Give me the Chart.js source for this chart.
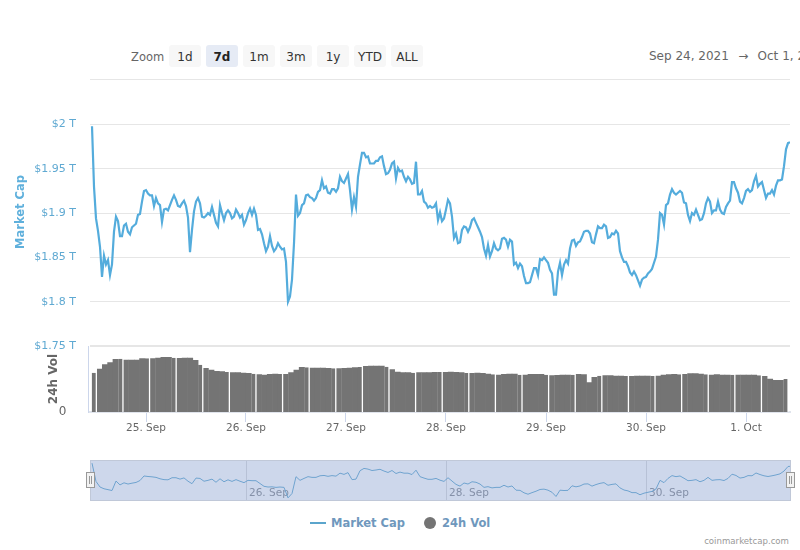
<!DOCTYPE html>
<html>
<head>
<meta charset="utf-8">
<title>Market Cap</title>
<script src="https://cdn.jsdelivr.net/npm/chart.js@4/dist/chart.umd.min.js"></script>
<style>
    html, body { margin: 0; padding: 0; width: 800px; height: 550px; overflow: hidden; background: #fff; font-family: "DejaVu Sans", sans-serif; }
    .abs { position: absolute; white-space: nowrap; }
    canvas { position: absolute; display: block; }
    .btn { position: absolute; top: 45px; height: 22px; width: 32px; line-height: 24px; text-align: center; font-size: 12px; color: #333; background: #f7f7f7; border-radius: 3px; }
    .btn.active { background: #e6ebf5; font-weight: bold; color: #222; }
    .handle { position: absolute; top: 472px; width: 7px; height: 14px; background: #f2f2f2; border: 1px solid #999; }
    .handle i { position: absolute; top: 3px; width: 1px; height: 8px; background: #999; }
</style>
</head>
<body>
    <div class="abs" style="left:131px;top:50px;font-size:11.5px;color:#666;">Zoom</div>
    <div class="btn" style="left:169px;">1d</div>
    <div class="btn active" style="left:206px;">7d</div>
    <div class="btn" style="left:243px;">1m</div>
    <div class="btn" style="left:280px;">3m</div>
    <div class="btn" style="left:317px;">1y</div>
    <div class="btn" style="left:354px;">YTD</div>
    <div class="btn" style="left:391px;">ALL</div>
    <div class="abs" style="left:649px;top:49px;font-size:12px;color:#666;">Sep 24, 2021 <span style="margin:0 5.5px;">→</span> Oct 1, 2021</div>
    <div class="abs" style="left:90px;top:79px;width:700px;height:1px;background:#e6e6e6;"></div>

    <canvas id="mainChart" width="800" height="242" style="left:0;top:114px;"></canvas>
    <canvas id="volChart" width="800" height="100" style="left:0;top:340px;"></canvas>
    <canvas id="navChart" width="700" height="40" style="left:90px;top:460px;background:#cdd7eb;"></canvas>

    <div class="abs" style="left:20px;top:212px;transform:translate(-50%,-50%) rotate(-90deg);font-size:11.5px;font-weight:bold;color:#5fb0dc;">Market Cap</div>
    <div class="abs" style="left:53px;top:379px;transform:translate(-50%,-50%) rotate(-90deg);font-size:12px;font-weight:bold;color:#666;">24h Vol</div>

    <div class="abs" style="left:90px;top:460px;width:699px;height:39px;border:1px solid #c0c8d8;"></div>
    <div class="handle" style="left:86px;"><i style="left:2px;"></i><i style="left:4px;"></i></div>
    <div class="handle" style="left:786px;"><i style="left:2px;"></i><i style="left:4px;"></i></div>

    <div class="abs" style="left:310px;top:522px;width:16px;height:2px;background:#5ba5cc;"></div>
    <div class="abs" style="left:331px;top:516px;font-size:11.5px;font-weight:bold;color:#6f98bd;">Market Cap</div>
    <div class="abs" style="left:424px;top:517px;width:12px;height:12px;border-radius:50%;background:#747474;"></div>
    <div class="abs" style="left:442px;top:516px;font-size:11.5px;font-weight:bold;color:#6f98bd;">24h Vol</div>
    <div class="abs" style="right:11px;top:536px;font-size:8.6px;color:#999;">coinmarketcap.com</div>

<script>
// Market cap in billions of USD, one reading every 0.48 hours
const marketCap = [
    1998, 1930, 1894, 1880, 1862, 1828, 1852, 1842, 1847, 1830, 1842, 1879, 1896, 1891, 1874, 1874, 1886, 1888, 1879, 1876,
    1884, 1886, 1888, 1898, 1899, 1913, 1925, 1926, 1922, 1920, 1920, 1908, 1917, 1911, 1909, 1890, 1904, 1905, 1903, 1909,
    1915, 1920, 1915, 1908, 1907, 1911, 1914, 1908, 1895, 1856, 1881, 1902, 1913, 1917, 1911, 1896, 1895, 1897, 1900, 1898,
    1907, 1898, 1889, 1885, 1909, 1900, 1892, 1900, 1903, 1900, 1894, 1896, 1904, 1900, 1895, 1898, 1887, 1892, 1900, 1905,
    1898, 1905, 1898, 1881, 1882, 1876, 1866, 1857, 1862,
    1874, 1863, 1857, 1860, 1866, 1862, 1859, 1860, 1845, 1800, 1806, 1825, 1866, 1921, 1897, 1900, 1909, 1911, 1920, 1921,
    1918, 1917, 1914, 1917, 1924, 1926, 1937, 1928, 1930, 1923, 1922, 1927, 1927, 1924, 1928, 1941, 1936, 1934, 1939, 1944,
    1926, 1904, 1918, 1907, 1941, 1955, 1968, 1968, 1963, 1964, 1956, 1956, 1956, 1959, 1959, 1963, 1964, 1953, 1944, 1945,
    1949, 1956, 1958, 1939, 1951, 1947, 1948, 1941, 1936, 1941, 1938, 1933, 1934, 1958, 1921, 1921, 1925, 1913, 1911, 1906,
    1908, 1906, 1907, 1911, 1892, 1901, 1891, 1894,
    1904, 1915, 1911, 1896, 1872, 1877, 1866, 1867, 1881, 1885, 1884, 1879, 1884, 1892, 1894, 1889, 1884, 1879, 1873, 1860,
    1852, 1864, 1851, 1857, 1866, 1860, 1858, 1860, 1871, 1872, 1870, 1862, 1870, 1868, 1842, 1844, 1838, 1843, 1840, 1829,
    1821, 1821, 1822, 1830, 1838, 1838, 1830, 1848, 1847, 1850, 1847, 1844, 1836, 1832, 1808, 1808, 1834, 1844, 1830, 1842,
    1847, 1843, 1860, 1869, 1870, 1863, 1867, 1868, 1873, 1879, 1880, 1880, 1877, 1867, 1866, 1876, 1885, 1883, 1883, 1887,
    1885, 1872, 1873, 1877, 1876, 1880, 1877,
    1857, 1850, 1845, 1845, 1840, 1833, 1830, 1834, 1830, 1824, 1818, 1825, 1827, 1828, 1832, 1834, 1837, 1844, 1851, 1870,
    1900, 1898, 1887, 1909, 1911, 1921, 1927, 1923, 1921, 1923, 1925, 1923, 1912, 1911, 1898, 1891, 1900, 1898, 1904, 1898,
    1892, 1893, 1900, 1911, 1917, 1913, 1900, 1903, 1903, 1913, 1904, 1900, 1899, 1907, 1911, 1914, 1935, 1935, 1928, 1923,
    1913, 1911, 1917, 1925, 1927, 1924, 1926, 1936, 1942, 1930, 1933, 1935, 1926, 1917, 1922, 1922, 1926, 1921, 1931, 1937,
    1937, 1938, 1953, 1972, 1979, 1980
];
const marketCapFirstHour = -12.96;
const marketCapStepHours = 0.48;

// 24h volume in billions of USD
const volume = [
    89.4, 98.5, 107.6, 112.1, 119.7, 121.2, 118.9, 118.2, 118.2, 121.2, 122, 122, 122.7, 124.2, 124.2, 123.5, 122.7, 122.7, 122.7, 117.4,
    107.6, 100, 95.5, 92.4, 91.7, 90.9, 90.2, 89.4, 88.6, 87.9, 87.1, 85.6, 84.1, 85.6, 86.4, 86.4, 86.4, 89.4, 95.5, 101.5,
    101.5, 100.8, 100, 100, 99.2, 99.2, 99.2, 99.2, 100, 100.8, 102.3, 104.5, 104.5, 104.5, 104.5, 103, 97, 90.9,
    89.4, 89.4, 89.4, 90.2, 89.4, 89.4, 90.2, 90.9, 90.9, 90.9, 90.2, 89.4, 88.6, 88.6, 88.6, 87.9, 86.4, 85.6, 84.8, 85.6,
    86.4, 86.4, 84.8, 84.8, 85.6, 85.6, 85.6, 84.8, 83.3, 83.3, 84.1, 84.1, 84.8, 86.4, 84.8, 66.7, 78.8, 82.6, 83.3, 82.6,
    81.8, 81.8, 81.8, 81.8, 81.8, 81.8, 81.8, 81.8, 82.6, 84.1, 84.8, 85.6, 85.6, 86.4, 87.1, 87.1, 86.4, 85.6, 84.8, 84.8,
    84.1, 84.1, 84.8, 84.8, 84.1, 84.1, 84.1, 83.3, 81.8, 75, 72, 72, 75
];
const volumeFirstHour = -12.4;
const volumeStepHours = 1.277;

// x axis is hours since 25 Sep 00:00
const dayHours = [0, 24, 48, 72, 96, 120, 144];
const dayLabels = ["25. Sep", "26. Sep", "27. Sep", "28. Sep", "29. Sep", "30. Sep", "1. Oct"];
const navHours = [24, 72, 120];
const navLabels = ["26. Sep", "28. Sep", "30. Sep"];
const capTicks = [1750, 1800, 1850, 1900, 1950, 2000];
const capTickLabels = ["$1.75 T", "$1.8 T", "$1.85 T", "$1.9 T", "$1.95 T", "$2 T"];

const HOUR_MIN = -13.44;
const HOUR_MAX = 154.56;
const FONT = '"DejaVu Sans", sans-serif';
const LINE_BLUE = "#54acdc";

Chart.defaults.animation = false;
Chart.defaults.responsive = false;
Chart.defaults.font.family = FONT;
Chart.defaults.plugins.legend.display = false;
Chart.defaults.plugins.tooltip.enabled = false;

const capPoints = marketCap.map((v, i) => ({ x: marketCapFirstHour + i * marketCapStepHours, y: v }));
const volPoints = volume.map((v, i) => ({ x: volumeFirstHour + i * volumeStepHours, y: v }));
// the navigator shows a coarser line, every 2nd reading
const navPoints = capPoints.filter((p, i) => i % 2 === 0 || i === capPoints.length - 1);

function fixedTicks(values) {
    return function(scale) {
        scale.ticks = values.map(v => ({ value: v }));
    };
}

// stop the scale reserving room for half a tick label at the plot ends
function fitBox(width, height) {
    return function(s) {
        if (width !== null) s.width = width;
        if (height !== null) s.height = height;
        s.paddingTop = 0;
        s.paddingBottom = 0;
        s.paddingLeft = 0;
        s.paddingRight = 0;
    };
}

// Main market cap line
new Chart(document.getElementById("mainChart"), {
    type: "line",
    data: {
        datasets: [{
            label: "Market Cap",
            data: capPoints,
            borderColor: LINE_BLUE,
            borderWidth: 2.2,
            pointRadius: 0,
            tension: 0
        }]
    },
    options: {
        layout: { padding: { top: 10.5, right: 10, bottom: 10 } },
        scales: {
            x: { type: "linear", display: false, min: HOUR_MIN, max: HOUR_MAX },
            y: {
                min: 1750,
                max: 2000,
                afterBuildTicks: fixedTicks(capTicks),
                afterFit: fitBox(90, null),
                border: { display: false },
                grid: {
                    color: "#e6e6e6",
                    drawTicks: false,
                    lineWidth: c => (c.tick && c.tick.value === 1750 ? 2 : 1)
                },
                ticks: {
                    padding: 14,
                    color: "#5fa9d2",
                    font: { size: 11 },
                    callback: v => capTickLabels[capTicks.indexOf(v)]
                }
            }
        }
    }
});

// Volume bars, every fifth bar has a white edge like the original columns
new Chart(document.getElementById("volChart"), {
    type: "bar",
    data: {
        datasets: [{
            label: "24h Vol",
            data: volPoints,
            backgroundColor: "#747474",
            borderColor: "#ffffff",
            borderWidth: c => (c.dataIndex % 5 === 0 ? { right: 1.3 } : 0),
            inflateAmount: c => (c.dataIndex % 5 <= 1 ? 0 : 0.33),
            barPercentage: 1,
            categoryPercentage: 1
        }]
    },
    options: {
        layout: { padding: { top: 6, right: 10 } },
        scales: {
            x: {
                type: "linear",
                offset: false,
                min: -13.8,
                max: HOUR_MAX,
                afterBuildTicks: fixedTicks(dayHours),
                afterFit: fitBox(null, 28),
                border: { color: "#e0e4ec", width: 2 },
                grid: { offset: false, drawOnChartArea: false, color: "#ccd6eb", tickLength: 10 },
                ticks: {
                    padding: 0,
                    maxRotation: 0,
                    autoSkip: false,
                    color: "#666",
                    font: { size: 10.5 },
                    callback: v => dayLabels[dayHours.indexOf(v)]
                }
            },
            y: {
                min: 0,
                max: 150,
                afterBuildTicks: fixedTicks([0]),
                afterFit: fitBox(88.5, null),
                border: { color: "#ccd6eb" },
                grid: { display: false },
                ticks: { padding: 14, color: "#666", font: { size: 12 } }
            }
        }
    }
});

// Navigator strip under the chart
new Chart(document.getElementById("navChart"), {
    type: "line",
    data: {
        datasets: [{
            data: navPoints,
            borderColor: "#6fa3cf",
            borderWidth: 1,
            pointRadius: 0,
            tension: 0
        }]
    },
    options: {
        layout: { padding: 0 },
        scales: {
            x: {
                type: "linear",
                min: HOUR_MIN,
                max: HOUR_MAX,
                afterBuildTicks: fixedTicks(navHours),
                afterFit: fitBox(null, 0),
                border: { display: false },
                grid: { color: "#b7c1d6", drawTicks: false },
                ticks: {
                    mirror: true,
                    padding: 0,
                    align: "start",
                    labelOffset: 3,
                    maxRotation: 0,
                    autoSkip: false,
                    color: "#8490a8",
                    font: { size: 10.5 },
                    callback: v => navLabels[navHours.indexOf(v)]
                }
            },
            y: { display: false, min: 1788, max: 2016 }
        }
    }
});
</script>
</body>
</html>
